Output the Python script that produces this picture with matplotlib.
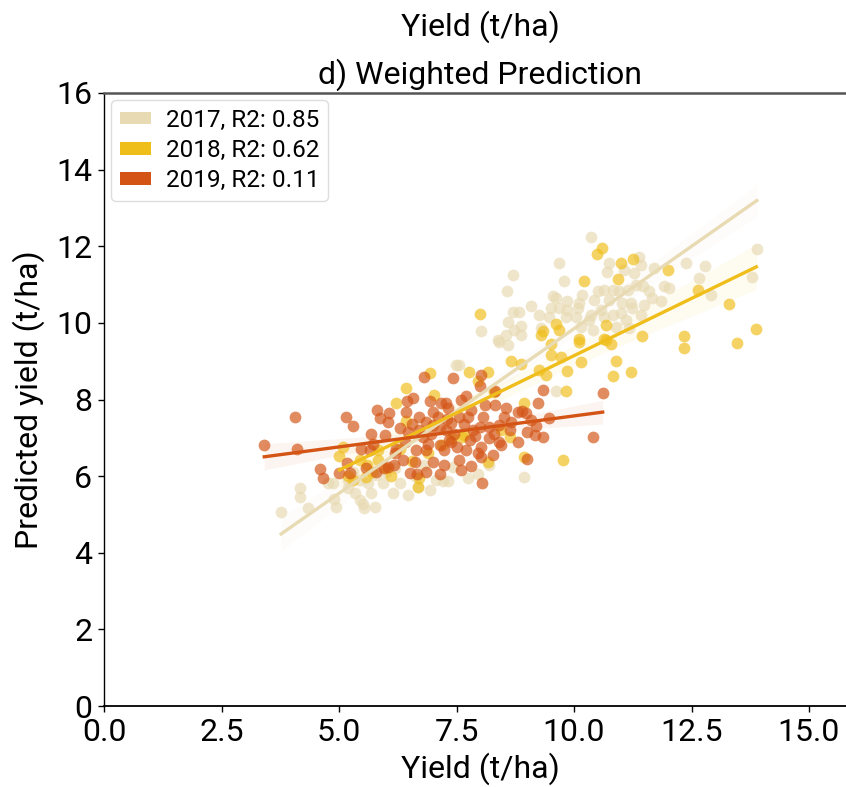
import matplotlib
matplotlib.use("Agg")
import matplotlib.pyplot as plt
import numpy as np
from matplotlib.patches import Patch

plt.rcParams['font.family'] = ['Roboto', 'DejaVu Sans']

x_2017 = [3.77, 4.16, 4.18, 4.34, 4.77, 4.87, 4.9, 4.93, 5.19, 5.19, 5.3, 5.33, 5.44, 5.44, 5.51, 5.54,
          5.62, 5.69, 5.76, 5.79, 5.93, 6.0, 6.15, 6.2, 6.29, 6.46, 6.64, 6.68, 6.8, 6.93, 7.07, 7.21,
          7.31, 7.42, 7.49, 7.55, 7.75, 7.95, 8.2, 8.94, 9.61, 8.02, 8.38, 8.41, 8.55, 8.57, 8.59, 8.59,
          8.7, 8.7, 8.73, 8.84, 8.87, 8.87, 9.09, 9.26, 9.3, 9.47, 9.51, 9.55, 9.62, 9.69, 9.69, 9.79,
          9.83, 9.86, 9.86, 10.04, 10.08, 10.11, 10.15, 10.18, 10.32, 10.36, 10.37, 10.4, 10.43, 10.5,
          10.57, 10.64, 10.64, 10.71, 10.75, 10.75, 10.82, 10.82, 10.89, 10.96, 11.0, 11.03, 11.07, 11.1,
          11.14, 11.17, 11.21, 11.24, 11.28, 11.31, 11.39, 11.42, 11.42, 11.46, 11.49, 11.6, 11.67, 11.7,
          11.85, 11.92, 12.02, 12.39, 12.66, 12.79, 12.91, 13.79, 13.89]
y_2017 = [5.07, 5.46, 5.68, 5.16, 5.81, 5.81, 5.4, 5.2, 5.68, 5.9, 6.1, 5.55, 5.38, 5.9, 5.27, 5.16,
          5.81, 5.57, 5.2, 6.03, 5.81, 6.11, 5.57, 6.2, 5.81, 5.51, 5.99, 5.72, 6.3, 5.64, 5.9, 5.86,
          5.86, 6.25, 8.9, 8.9, 5.95, 6.05, 6.3, 5.99, 8.21, 9.78, 9.54, 9.51, 9.68, 10.84, 10.03, 9.42,
          11.25, 10.29, 9.81, 10.29, 9.92, 9.68, 10.44, 10.21, 9.86, 10.16, 10.38, 10.69, 10.64, 11.57, 10.38, 11.08,
          10.16, 10.56, 10.34, 10.16, 10.38, 10.51, 9.9, 10.73, 10.08, 10.21, 12.23, 9.81, 10.6, 10.82,
          10.34, 10.86, 10.16, 11.33, 11.55, 10.6, 10.86, 10.21, 9.9, 10.82, 10.25, 10.51, 11.38, 10.08,
          10.86, 9.86, 10.51, 10.38, 11.29, 10.99, 11.73, 11.51, 10.21, 10.95, 10.47, 10.82, 10.64, 11.42,
          10.56, 10.95, 10.9, 11.55, 11.16, 11.49, 10.73, 11.19, 11.92]

x_2018 = [5.01, 5.08, 5.2, 5.3, 5.44, 5.58, 5.6, 5.7, 5.83, 5.83, 6.0, 6.1, 6.22, 6.3, 6.43, 6.43,
          6.55, 6.68, 6.71, 6.9, 6.93, 7.03, 7.2, 7.4, 7.62, 7.67, 7.76, 7.95, 7.99, 8.16, 8.18, 8.3,
          8.45, 8.63, 8.66, 8.87, 8.94, 8.94, 9.26, 9.3, 9.33, 9.4, 9.51, 9.51, 9.61, 9.69, 9.72, 9.76,
          9.83, 9.86, 10.1, 10.11, 10.15, 10.22, 10.48, 10.59, 10.64, 10.68, 10.68, 10.78, 10.82, 10.89,
          10.93, 11.0, 11.21, 11.26, 11.44, 11.99, 12.34, 12.34, 12.63, 13.3, 13.47, 13.88]
y_2018 = [6.53, 6.77, 6.0, 5.9, 6.42, 5.99, 6.3, 6.1, 6.68, 6.42, 6.2, 6.0, 7.9, 6.7, 8.29, 7.44,
          6.4, 5.72, 5.94, 6.6, 8.7, 8.12, 6.8, 7.0, 7.03, 7.07, 8.73, 8.47, 10.23, 6.37, 8.71, 8.2,
          7.2, 7.03, 9.01, 8.93, 7.92, 6.51, 8.77, 9.68, 9.78, 8.64, 9.46, 9.16, 9.98, 9.81, 9.12, 6.43,
          8.21, 8.75, 9.58, 9.51, 8.99, 11.08, 11.81, 11.95, 9.58, 9.95, 9.55, 9.45, 8.62, 9.01,
          11.14, 11.57, 8.71, 11.68, 9.65, 11.38, 9.66, 9.35, 10.86, 10.49, 9.48, 9.83]

x_2019 = [3.41, 4.07, 4.11, 4.59, 4.66, 5.0, 5.14, 5.17, 5.24, 5.3, 5.47, 5.58, 5.65, 5.69, 5.72, 5.79,
          5.81, 5.88, 5.95, 5.97, 6.04, 6.05, 6.06, 6.18, 6.2, 6.22, 6.29, 6.36, 6.4, 6.43, 6.45, 6.46,
          6.5, 6.55, 6.57, 6.61, 6.64, 6.65, 6.7, 6.71, 6.78, 6.8, 6.85, 6.85, 6.85, 6.9, 6.93, 6.95,
          7.0, 7.0, 7.0, 7.1, 7.14, 7.14, 7.15, 7.17, 7.24, 7.24, 7.28, 7.28, 7.3, 7.31, 7.35, 7.38,
          7.38, 7.42, 7.45, 7.5, 7.56, 7.56, 7.6, 7.6, 7.65, 7.7, 7.7, 7.75, 7.78, 7.81, 7.81, 7.85,
          7.9, 7.95, 7.99, 7.99, 8.02, 8.02, 8.02, 8.04, 8.06, 8.1, 8.2, 8.2, 8.27, 8.3, 8.31, 8.31,
          8.4, 8.41, 8.45, 8.5, 8.55, 8.63, 8.66, 8.8, 8.8, 8.9, 8.98, 9.01, 9.01, 9.09, 9.16, 9.2,
          9.23, 9.33, 9.33, 9.47, 10.4, 10.61]
y_2019 = [6.81, 7.55, 6.71, 6.18, 5.94, 6.09, 7.55, 6.33, 6.07, 7.31, 6.72, 6.2, 6.68, 7.1, 6.85, 6.11,
          7.73, 7.51, 6.2, 7.07, 7.42, 6.25, 7.64, 6.29, 6.6, 6.72, 7.26, 6.42, 6.9, 7.68, 7.95, 7.16,
          6.07, 7.35, 8.03, 6.37, 6.68, 6.05, 7.2, 7.55, 7.03, 8.6, 7.42, 6.68, 6.11, 6.85, 7.95, 7.1,
          7.68, 7.33, 6.37, 7.55, 7.29, 6.81, 6.05, 7.9, 6.68, 6.29, 7.2, 7.9, 7.5, 7.77, 6.94, 6.9,
          7.38, 8.56, 7.1, 6.75, 7.55, 6.42, 7.99, 6.15, 7.35, 6.68, 8.1, 7.55, 6.94, 7.73, 6.26, 7.2,
          7.05, 6.6, 8.34, 7.27, 8.64, 6.77, 6.51, 5.81, 7.55, 7.85, 7.29, 6.99, 6.55, 7.1, 8.21, 7.86,
          6.9, 7.33, 6.81, 7.55, 7.77, 7.2, 7.42, 7.68, 6.9, 7.7, 7.64, 7.16, 6.46, 7.47, 7.07, 7.3,
          7.9, 8.25, 7.03, 7.51, 7.01, 8.16]

annees = ['2017', '2018', '2019']
r2 = ['0.85', '0.62', '0.11']
couleurs = ['#E8DAB2', '#F0BE1B', '#D45415']

x_ticks = [0.0, 2.5, 5.0, 7.5, 10.0, 12.5, 15.0]
y_ticks = [0, 2, 4, 6, 8, 10, 12, 14, 16]

series = [(x_2017, y_2017), (x_2018, y_2018), (x_2019, y_2019)]

fig = plt.figure(figsize=(8.46, 7.87), dpi=100)
ax = fig.add_axes([104 / 846, 81 / 787, 752 / 846, 613 / 787])

for (xs, ys), c in zip(series, couleurs):
    xs = np.array(xs)
    ys = np.array(ys)
    ax.scatter(xs, ys, s=72, color=c, alpha=0.68, linewidths=0, zorder=2)
    # droite de regression + intervalle de confiance 95 %
    pente, origine = np.polyfit(xs, ys, 1)
    grille = np.linspace(xs.min(), xs.max(), 100)
    pred = origine + pente * grille
    n = len(xs)
    resid = ys - (origine + pente * xs)
    s_err = np.sqrt(np.sum(resid ** 2) / (n - 2))
    ci = 1.97 * s_err * np.sqrt(1 / n + (grille - xs.mean()) ** 2 / np.sum((xs - xs.mean()) ** 2))
    ax.fill_between(grille, pred - ci, pred + ci, color=c, alpha=0.06, linewidth=0, zorder=1)
    ax.plot(grille, pred, color=c, lw=2.4, zorder=3)

ax.set_xlim(0, 16)
ax.set_ylim(0, 16)
ax.set_xticks(x_ticks)
ax.set_xticklabels([f'{t:.1f}' for t in x_ticks])
ax.set_yticks(y_ticks)
ax.tick_params(labelsize=23, length=4.5, width=1, pad=4)

ax.spines['right'].set_visible(False)
ax.spines['top'].set_color('#555555')
ax.spines['top'].set_linewidth(1.8)
ax.spines['left'].set_linewidth(1.0)
ax.spines['bottom'].set_linewidth(1.3)

ax.set_xlabel('Yield (t/ha)', fontsize=23, labelpad=4)
ax.set_ylabel('Predicted yield (t/ha)', fontsize=23, labelpad=8)
ax.set_title('d) Weighted Prediction', fontsize=23, pad=7)
fig.text(ax.get_position().x0 + ax.get_position().width / 2, 0.955, 'Yield (t/ha)',
         ha='center', va='baseline', fontsize=23)

poignees = [Patch(facecolor=c, edgecolor='none') for c in couleurs]
etiquettes = [f'{a}, R2: {r}' for a, r in zip(annees, r2)]
ax.legend(poignees, etiquettes, loc='upper left', fontsize=17.5, handlelength=1.3,
          handleheight=0.42, labelspacing=0.3, borderpad=0.35, handletextpad=0.6,
          frameon=True, edgecolor='#dddddd', framealpha=1, borderaxespad=0.3)

fig.savefig('out.png', dpi=100)
